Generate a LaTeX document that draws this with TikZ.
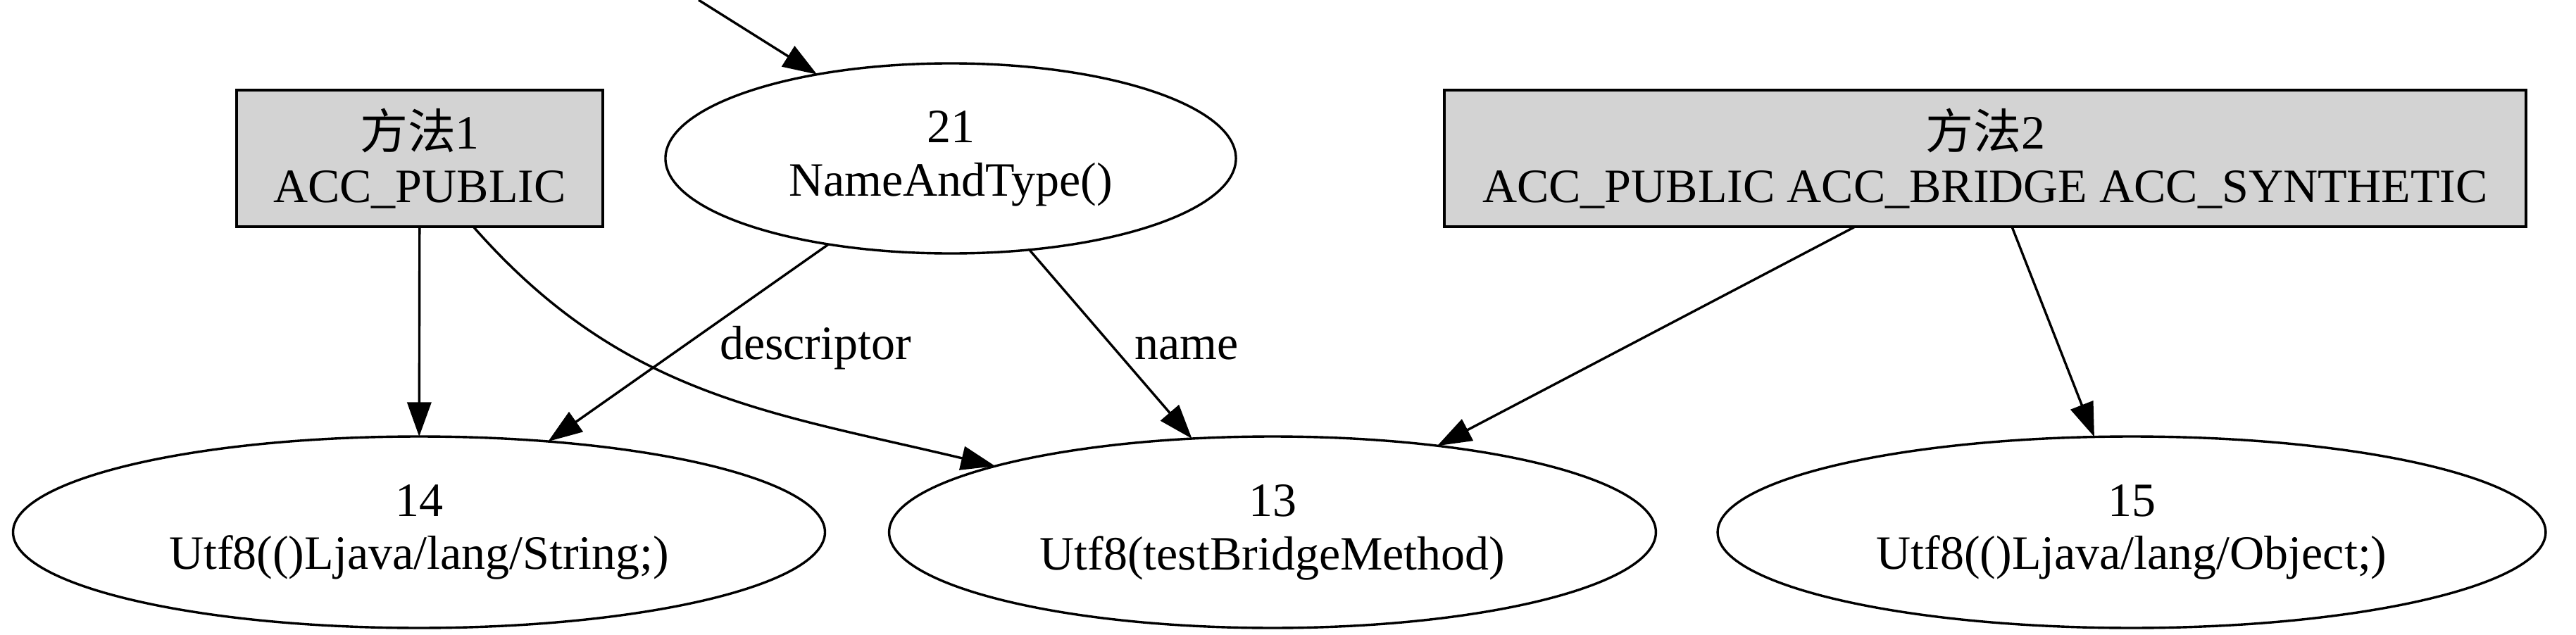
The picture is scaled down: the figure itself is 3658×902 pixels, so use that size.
\documentclass[tikz,border=0pt]{standalone}
\usepackage{fontspec}
\setmainfont{Liberation Serif}
\newfontfamily\cjk{Noto Sans CJK SC}
\usetikzlibrary{arrows.meta,shapes.geometric}
\definecolor{boxgray}{HTML}{D3D3D3}
\begin{document}
\begin{tikzpicture}[x=0.2059pt,y=-0.2059pt,
  every node/.style={font=\fontsize{14}{15.6}\selectfont, align=center, inner sep=0pt, outer sep=0pt},
  boxnode/.style={draw, line width=0.8pt, fill=boxgray, rectangle, minimum height=39.9pt},
  ellnode/.style={draw, line width=0.7pt, ellipse, minimum height=56pt},
  conn/.style={draw, line width=0.7pt, -{Triangle[length=10pt,width=7pt]}},
  lbl/.style={anchor=base}]
\useasboundingbox (0,0) rectangle (3658,902);
% nodes
\node[boxnode, minimum width=107.1pt] (m1) at (596,225) {{\cjk 方法}1\\ACC\_PUBLIC};
\node[boxnode, minimum width=316.2pt] (m2) at (2819,225) {{\cjk 方法}2\\ACC\_PUBLIC ACC\_BRIDGE ACC\_SYNTHETIC};
\node[ellnode, minimum width=166.8pt, minimum height=55.6pt] (n21) at (1350,225) {21\\NameAndType()};
\node[ellnode, minimum width=237.4pt] (n14) at (595,756) {14\\Utf8(()Ljava/lang/String;)};
\node[ellnode, minimum width=224.2pt] (n13) at (1807,756) {13\\Utf8(testBridgeMethod)};
\node[ellnode, minimum width=242.1pt] (n15) at (3027,756) {15\\Utf8(()Ljava/lang/Object;)};
\coordinate (topin) at (992,0);
% edge labels
\node[lbl] (ldesc) at (1158,510) {descriptor};
\node[lbl] (lname) at (1685,510) {name};
% edges
\draw[conn] (topin) -- (n21);
\draw[conn] (m1) -- (n14);
\draw[conn] ([xshift=15.65pt]m1.south) .. controls (883,562) and (1090,585) .. (n13);
\draw[conn] (n21) -- (n14);
\draw[conn] (n21) -- (n13);
\draw[conn] (m2) -- (n13);
\draw[conn] (m2) -- (n15);
\end{tikzpicture}
\end{document}
